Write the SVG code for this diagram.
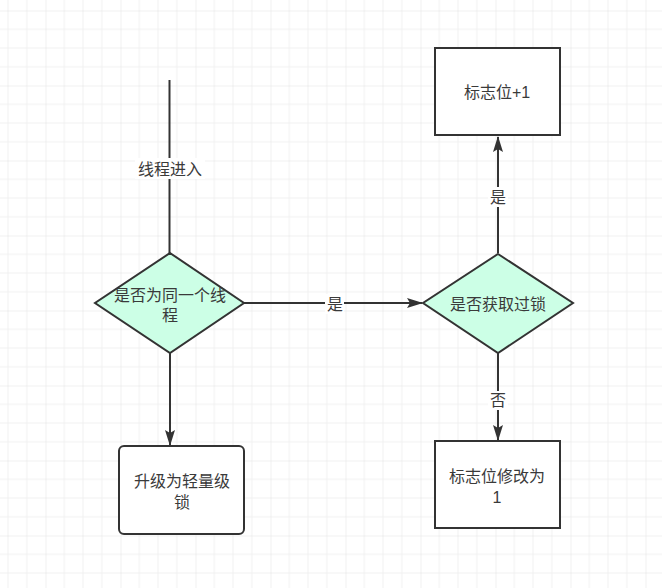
<svg xmlns="http://www.w3.org/2000/svg" width="662" height="588" viewBox="0 0 662 588">
<style>
.shape{stroke:#333;stroke-width:2;}
.dia{fill:#ccffe6;}
.box{fill:#fff;}
.edge{fill:none;stroke:#333;stroke-width:2;}
.t{font-family:"Liberation Sans","Noto Sans CJK SC",sans-serif;font-size:16px;fill:#3a3a3a;text-anchor:middle;dominant-baseline:central;}
.lbl{fill:#fff;}
</style>
<defs>
<pattern id="grid" x="45.5" y="10.5" width="75" height="75" patternUnits="userSpaceOnUse">
<path d="M18.75 0V75M37.5 0V75M56.25 0V75M0 18.75H75M0 37.5H75M0 56.25H75" stroke="#f0f0f0" stroke-width="1" fill="none"/>
<path d="M0 0V75M0 0H75" stroke="#e3e3e3" stroke-width="1" fill="none"/>
</pattern>
<marker id="arr" viewBox="0 0 16 10" refX="15" refY="5" markerWidth="16" markerHeight="10" markerUnits="userSpaceOnUse" orient="auto">
<path d="M0 0L16 5L0 10L3 5Z" fill="#333"/>
</marker>
</defs>
<rect width="662" height="588" fill="#fff"/>
<rect width="662" height="588" fill="url(#grid)"/>
<g id="connectors">
<path class="edge" d="M169.5 80V253"/>
<rect class="lbl" x="135" y="158" width="70" height="21"/>
<text class="t" x="170" y="169">线程进入</text>
<path class="edge" d="M244 303H422" marker-end="url(#arr)"/>
<rect class="lbl" x="325" y="294" width="19" height="20"/>
<text class="t" x="335" y="304">是</text>
<path class="edge" d="M498 253V137" marker-end="url(#arr)"/>
<rect class="lbl" x="488" y="187" width="20" height="20"/>
<text class="t" x="498" y="197">是</text>
<path class="edge" d="M498 353V440" marker-end="url(#arr)"/>
<rect class="lbl" x="488" y="391" width="20" height="19"/>
<text class="t" x="498" y="400">否</text>
<path class="edge" d="M170 353V445" marker-end="url(#arr)"/>
</g>
<g id="node-same-thread">
<path class="shape dia" d="M170 253L244 303L170 353L95 303Z"/>
<text class="t" x="170" y="295">是否为同一个线<tspan x="170" dy="20">程</tspan></text>
</g>
<g id="node-locked">
<path class="shape dia" d="M498 254L573 303L498 353L423 303Z"/>
<text class="t" x="498" y="304">是否获取过锁</text>
</g>
<g id="node-plus-one">
<rect class="shape box" x="435" y="48" width="125" height="87"/>
<text class="t" x="497" y="92">标志位+1</text>
</g>
<g id="node-set-one">
<rect class="shape box" x="435" y="441" width="125" height="87"/>
<text class="t" x="497" y="476">标志位修改为<tspan x="497" dy="21">1</tspan></text>
</g>
<g id="node-upgrade">
<rect class="shape box" x="119" y="446" width="125" height="88" rx="5" ry="5"/>
<text class="t" x="182" y="481">升级为轻量级<tspan x="182" dy="21">锁</tspan></text>
</g>
</svg>
